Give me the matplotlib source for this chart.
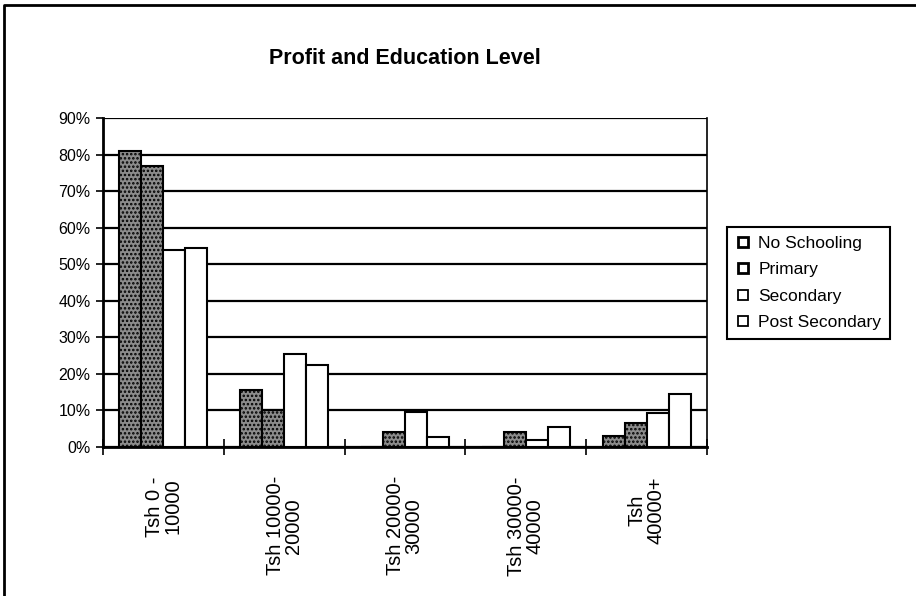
import matplotlib
matplotlib.use("Agg")
import numpy as np
import matplotlib.pyplot as plt
from matplotlib.lines import Line2D

plt.rcParams["font.family"] = ["Liberation Sans", "DejaVu Sans"]
plt.rcParams["hatch.linewidth"] = 1.2

# 数据（从图中读取，单位 %）
categories = ["Tsh 0 -\n10000", "Tsh 10000-\n20000", "Tsh 20000-\n30000",
              "Tsh 30000-\n40000", "Tsh\n40000+"]
series_names = ["No Schooling", "Primary", "Secondary", "Post Secondary"]
no_schooling = [81, 15.5, 0, 0, 3]
primary = [77, 10, 4, 4, 6.5]
secondary = [54, 25.5, 9.6, 2, 9.3]
post_secondary = [54.5, 22.5, 2.7, 5.5, 14.5]
y_ticks = [0, 10, 20, 30, 40, 50, 60, 70, 80, 90]

series = [no_schooling, primary, secondary, post_secondary]
faces = ["#8c8c8c", "#8c8c8c", "white", "white"]
hatches = ["....", "....", None, None]

fig = plt.figure(figsize=(9.16, 5.96), dpi=100)
ax = fig.add_axes([103 / 916, 1 - 447 / 596, 604 / 916, 329 / 596])

x = np.arange(len(categories))
w = 1 / 5.5  # Excel 间隙宽度 150%
for i, vals in enumerate(series):
    ax.bar(x + (i - 1.5) * w, vals, width=w, facecolor=faces[i], edgecolor="black",
           linewidth=1.5, hatch=hatches[i], zorder=3)

ax.set_ylim(0, 90)
ax.set_xlim(-0.5, len(categories) - 0.5)
ax.set_yticks(y_ticks)
ax.set_yticklabels([f"{v}%" for v in y_ticks], fontsize=11.5)
ax.yaxis.grid(True, color="black", linewidth=1.6, zorder=0)
ax.tick_params(axis="y", direction="out", length=5, width=1.2, pad=4)

# 类别标签在中心，刻度线在分组边界
ax.set_xticks(x)
ax.set_xticklabels(categories, rotation=90, fontsize=14.5, va="top", ha="center",
                   multialignment="center", linespacing=0.95)
ax.tick_params(axis="x", which="major", length=0, pad=21)
ax.set_xticks(np.arange(len(categories) + 1) - 0.5, minor=True)
ax.tick_params(axis="x", which="minor", direction="inout", length=12, width=1.2)

for s in ["left", "bottom"]:
    ax.spines[s].set_linewidth(2)
ax.spines["top"].set_visible(False)
ax.spines["right"].set_linewidth(1.2)

fig.text(405 / 916, 1 - 59 / 596, "Profit and Education Level", ha="center", va="center",
         fontsize=15.5, fontweight="bold")

handles = [Line2D([], [], linestyle="none", marker="s", markersize=7.5,
                  markerfacecolor="white", markeredgecolor="black",
                  markeredgewidth=2 if i < 2 else 1.3) for i in range(4)]
leg = fig.legend(handles, series_names, loc="upper left",
                 bbox_to_anchor=(727 / 916, 1 - 227 / 596), borderaxespad=0,
                 fontsize=12.5, frameon=True, fancybox=False, framealpha=1,
                 handlelength=0.8, handletextpad=0.5, labelspacing=0.65,
                 borderpad=0.5)
leg.get_frame().set_edgecolor("black")
leg.get_frame().set_linewidth(1.5)

# 外框（仅上边和左边可见）
fig.add_artist(Line2D([4 / 916, 4 / 916, 1], [0, 1 - 5 / 596, 1 - 5 / 596],
                      transform=fig.transFigure, color="black", linewidth=2))

fig.savefig("out.png", dpi=100)
